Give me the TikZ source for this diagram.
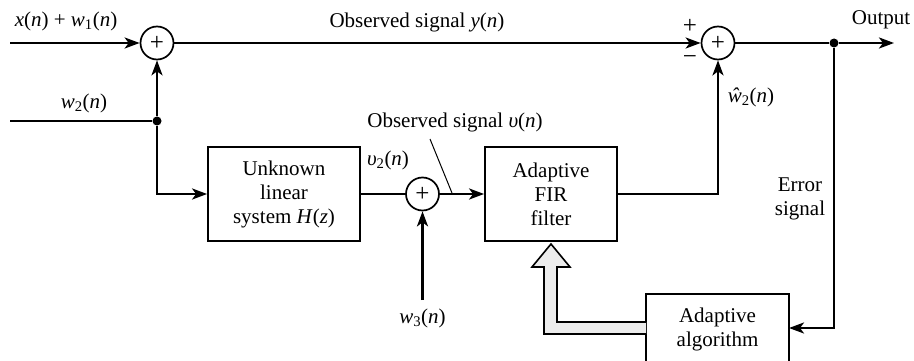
\documentclass[tikz,border=0pt]{standalone}
\usepackage{fontspec}
\setmainfont{Liberation Serif}
\usetikzlibrary{arrows.meta,calc}
\newcommand{\vi}[1]{\textit{#1}}
\begin{document}
\begin{tikzpicture}[x=1pt,y=-1pt,
  font=\fontsize{21}{24}\selectfont,
  sig/.style={line width=2.6pt},
  arr/.style={sig,-{Stealth[length=15pt,width=11pt,inset=4pt]}},
  sumnode/.style={circle,draw,line width=1.7pt,minimum size=33pt,inner sep=0pt,font=\fontsize{25}{25}\selectfont},
  blk/.style={draw,line width=1.8pt,inner sep=0pt,align=center},
  lbl/.style={inner sep=0pt},
  sgn/.style={inner sep=0pt,font=\fontsize{25}{25}\selectfont},
  dotnode/.style={circle,fill,inner sep=0pt,minimum size=9pt}]
\useasboundingbox (0,0) rectangle (914,361);
% nodes
\coordinate (in1) at (10,43);
\coordinate (in2) at (10,121);
\node[sumnode] (s1) at (157,43) {+};
\node[sumnode] (s2) at (718,43) {+};
\node[dotnode] (j1) at (157,121) {};
\node[dotnode] (j2) at (834,43) {};
\coordinate (out) at (894,43);
\node[blk,minimum width=152pt,minimum height=94pt] (H) at (284,194) {Unknown\\linear\\system \vi{H}(\vi{z})};
\node[sumnode] (s3) at (422.5,194) {+};
\node[blk,minimum width=132pt,minimum height=94pt] (fir) at (551,194) {Adaptive\\FIR\\filter};
\node[blk,minimum width=143pt,minimum height=70pt] (alg) at (717.5,329) {Adaptive\\algorithm};
\coordinate (w3) at (422.5,300);
\coordinate (e1) at (834,328);
\coordinate (e2) at (789,328);
% labels
\node[lbl] (lx) at (66,21) {\vi{x}(\vi{n}) + \vi{w}\textsubscript{1}(\vi{n})};
\node[lbl] (lw2) at (84,103) {\vi{w}\textsubscript{2}(\vi{n})};
\node[lbl] (ly) at (417,22) {Observed signal \vi{y}(\vi{n})};
\node[sgn] (lp) at (690,26) {+};
\node[sgn] (lm) at (690,60) {−};
\node[lbl] (lo) at (881,20) {Output};
\node[lbl] (lv2) at (388,160) {\vi{υ}\textsubscript{2}(\vi{n})};
\node[lbl] (lv) at (455,122) {Observed signal \vi{υ}(\vi{n})};
\node[lbl] (lw3) at (422.5,318) {\vi{w}\textsubscript{3}(\vi{n})};
\node[lbl] (lwh) at (751,97) {\vi{ŵ}\textsubscript{2}(\vi{n})};
\node[lbl,align=center] (le) at (800,199) {Error\\signal};
\coordinate (ld1) at (430,139);
\coordinate (ld2) at (452,193);
% connectors
\draw[arr] (in1) -- (s1);
\draw[arr] (s1) -- (s2);
\draw[sig] (s2) -- (j2);
\draw[arr] (j2) -- (out);
\draw[sig] (in2) -- (j1);
\draw[arr] (j1) -- (s1);
\draw[arr] (j1) |- (H);
\draw[sig] (H) -- (s3);
\draw[arr] (s3) -- (fir);
\draw[arr] (w3) -- (s3);
\draw[arr] (fir) -| (s2);
\draw[arr] (j2) -- (e1) -- (e2);
\draw[line width=1pt] (ld1) -- (ld2);
% hollow arrow
\draw[line width=1.6pt,fill=gray!15,line join=miter]
  (646,322) -- (557,322) -- (557,267) -- (570,267) -- (551,244)
  -- (532,267) -- (544,267) -- (544,334) -- (646,334);
\end{tikzpicture}
\end{document}
